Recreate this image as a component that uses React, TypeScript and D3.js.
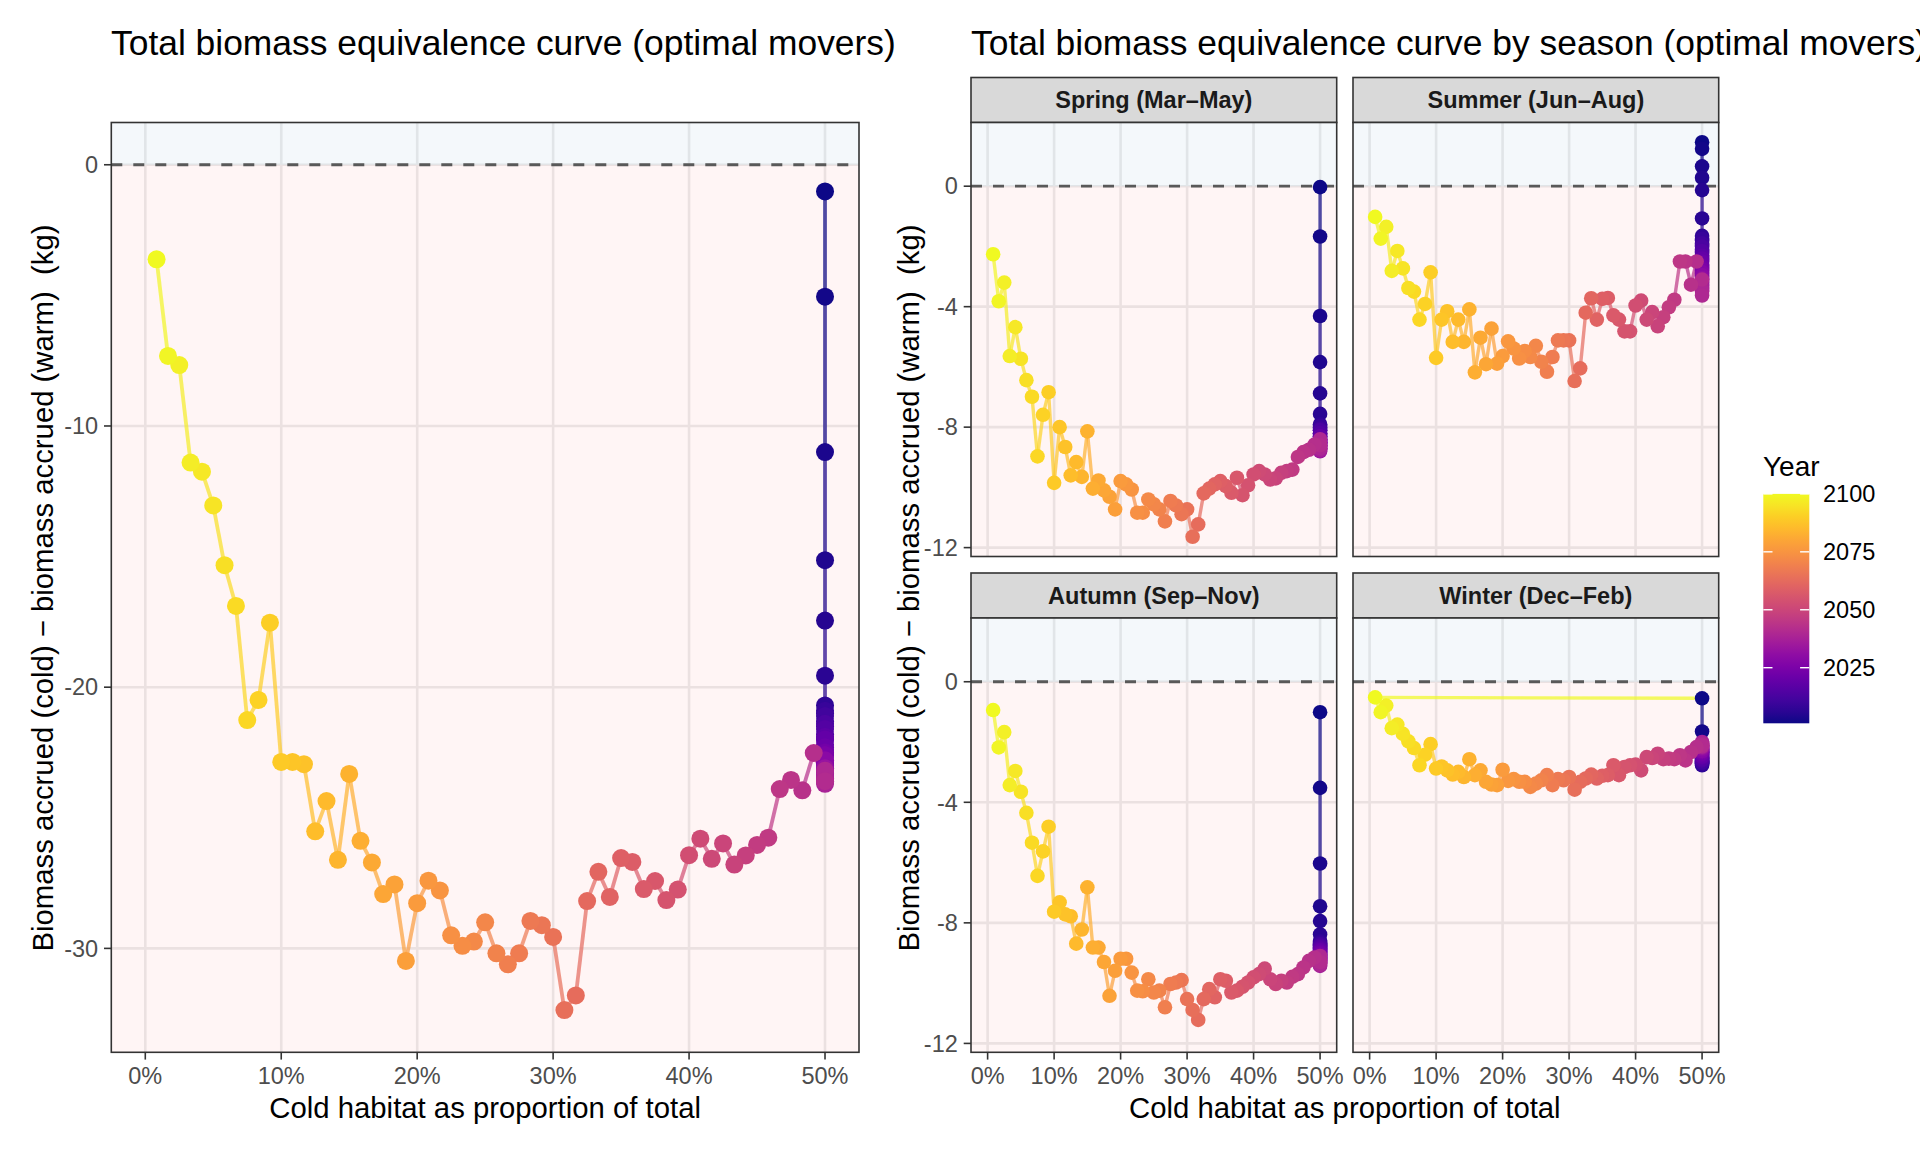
import { useEffect, useRef } from 'react';
import * as d3 from 'd3';

const years = d3.range(2001, 2101);

// cold habitat as % of total, one value per year 2001 -> 2100
const coldShare = [
  50, 50, 50, 50, 50, 50, 50, 50, 50, 50,
  50, 50, 50, 50, 50, 50, 50, 50, 50, 50,
  50, 50, 50, 50, 50, 50, 50, 50, 50, 50,
  50, 50, 50, 50, 50, 50, 50, 50, 50, 50,
  50, 49.17, 48.33, 47.5, 46.67, 45.83, 45, 44.17, 43.33, 42.5,
  41.67, 40.83, 40, 39.17, 38.33, 37.5, 36.67, 35.83, 35, 34.17,
  33.33, 32.5, 31.67, 30.83, 30, 29.17, 28.33, 27.5, 26.67, 25.83,
  25, 24.17, 23.33, 22.5, 21.67, 20.83, 20, 19.17, 18.33, 17.5,
  16.67, 15.83, 15, 14.17, 13.33, 12.5, 11.67, 10.83, 10, 9.17,
  8.33, 7.5, 6.67, 5.83, 5, 4.17, 3.33, 2.5, 1.67, 0.83,
];

// biomass(cold) - biomass(warm), kg, per year
const totalBiomass = [
  -1.02, -5.05, -11.0, -15.14, -17.45, -19.56, -20.7, -21.0, -20.9, -21.3,
  -21.1, -21.5, -21.4, -21.8, -21.6, -22.0, -21.9, -22.2, -22.0, -22.4,
  -22.3, -22.6, -22.5, -22.8, -22.6, -23.0, -22.9, -23.1, -22.8, -23.3,
  -23.2, -23.4, -23.1, -23.5, -23.3, -23.6, -23.4, -23.7, -23.5, -23.2,
  -23.6, -22.52, -23.95, -23.55, -23.9, -25.76, -26.04, -26.44, -26.79, -25.98,
  -26.57, -25.8, -26.43, -27.75, -28.15, -27.42, -27.73, -26.69, -26.54, -28.03,
  -27.07, -28.19, -31.8, -32.36, -29.56, -29.11, -28.95, -30.19, -30.61, -30.19,
  -29.0, -29.74, -29.9, -29.5, -27.78, -27.41, -28.27, -30.48, -27.55, -27.92,
  -26.71, -25.88, -23.32, -26.61, -24.36, -25.52, -22.95, -22.86, -22.86, -17.53,
  -20.49, -21.26, -16.89, -15.33, -13.04, -11.75, -11.4, -7.67, -7.32, -3.62,
];

const springBiomass = [
  -0.03, -1.67, -4.31, -5.84, -6.88, -7.56, -7.9, -8.0, -7.95, -8.1,
  -8.05, -8.2, -8.1, -8.25, -8.2, -8.35, -8.3, -8.4, -8.3, -8.45,
  -8.4, -8.5, -8.45, -8.55, -8.5, -8.6, -8.55, -8.65, -8.5, -8.7,
  -8.6, -8.75, -8.65, -8.8, -8.7, -8.6, -8.75, -8.5, -8.7, -8.4,
  -8.6, -8.58, -8.75, -8.83, -8.99, -9.41, -9.46, -9.52, -9.7, -9.74,
  -9.57, -9.46, -9.57, -9.93, -10.26, -9.68, -10.18, -9.96, -9.79, -9.9,
  -10.04, -10.2, -11.23, -11.64, -10.73, -10.89, -10.6, -10.45, -11.13, -10.73,
  -10.56, -10.4, -10.84, -10.84, -10.07, -9.9, -9.79, -10.73, -10.31, -10.1,
  -9.77, -10.04, -8.14, -9.65, -9.16, -9.6, -8.66, -8.0, -9.85, -6.84,
  -7.59, -8.97, -6.99, -6.44, -5.73, -4.68, -5.64, -3.2, -3.82, -2.26,
];

const summerBiomass = [
  1.46, 1.24, 0.66, 0.28, -0.13, -1.07, -1.65, -1.8, -1.75, -1.95,
  -1.9, -2.1, -2.0, -2.2, -2.15, -2.35, -2.3, -2.45, -2.4, -2.6,
  -2.5, -2.7, -2.65, -2.8, -2.75, -2.9, -2.85, -3.0, -2.95, -3.1,
  -3.05, -3.2, -3.15, -3.3, -3.25, -3.4, -3.35, -3.5, -3.45, -3.63,
  -3.1, -2.5, -3.27, -2.5, -2.5, -3.77, -4.02, -4.35, -4.65, -4.18,
  -4.43, -3.8, -3.96, -4.82, -4.82, -4.43, -4.29, -3.71, -3.74, -4.43,
  -3.72, -4.2, -6.05, -6.47, -5.12, -5.12, -5.12, -5.67, -6.16, -5.83,
  -5.3, -5.67, -5.47, -5.72, -5.39, -5.15, -5.64, -5.89, -4.73, -5.91,
  -5.03, -6.18, -4.09, -5.17, -4.43, -5.17, -4.15, -4.43, -5.7, -2.86,
  -3.91, -4.43, -3.5, -3.38, -2.73, -2.15, -2.81, -1.35, -1.74, -1.02,
];

const autumnBiomass = [
  -1.01, -3.52, -6.03, -7.45, -7.94, -8.38, -8.6, -8.7, -8.65, -8.75,
  -8.7, -8.8, -8.75, -8.85, -8.8, -8.9, -8.85, -8.95, -8.9, -9.0,
  -8.95, -9.05, -9.0, -9.1, -9.05, -9.15, -9.1, -9.2, -9.15, -9.25,
  -9.2, -9.3, -9.25, -9.35, -9.3, -9.43, -9.35, -9.2, -9.4, -9.1,
  -9.3, -9.15, -9.26, -9.48, -9.7, -9.79, -9.98, -9.92, -10.03, -9.87,
  -9.52, -9.7, -9.81, -9.98, -10.12, -10.25, -10.31, -9.92, -9.87, -10.47,
  -10.2, -10.53, -11.22, -10.89, -10.53, -9.9, -9.98, -10.03, -10.8, -10.25,
  -10.31, -9.87, -10.27, -10.25, -9.65, -9.19, -9.19, -9.59, -10.42, -9.3,
  -8.82, -8.82, -6.82, -8.22, -8.69, -7.78, -7.72, -7.32, -7.63, -4.81,
  -5.63, -6.44, -5.34, -4.35, -3.65, -2.96, -3.43, -1.67, -2.18, -0.94,
];

const winterBiomass = [
  -0.55, -1.65, -2.35, -2.55, -2.65, -2.72, -2.77, -2.72, -2.7, -2.65,
  -2.68, -2.6, -2.62, -2.55, -2.58, -2.5, -2.52, -2.45, -2.48, -2.4,
  -2.42, -2.35, -2.38, -2.3, -2.33, -2.28, -2.25, -2.3, -2.2, -2.24,
  -2.15, -2.2, -2.1, -2.18, -2.05, -2.12, -2.0, -2.1, -2.05, -2.15,
  -2.1, -2.17, -2.33, -2.61, -2.44, -2.57, -2.55, -2.57, -2.39, -2.53,
  -2.5, -2.94, -2.75, -2.77, -2.83, -3.1, -2.77, -3.1, -3.12, -3.21,
  -3.08, -3.21, -3.32, -3.58, -3.16, -3.27, -3.23, -3.43, -3.1, -3.27,
  -3.38, -3.49, -3.32, -3.32, -3.23, -3.29, -2.92, -3.43, -3.41, -3.32,
  -2.94, -3.1, -2.57, -3.16, -2.99, -3.08, -2.94, -2.81, -2.88, -2.07,
  -2.42, -2.77, -2.2, -1.98, -1.73, -1.42, -1.54, -0.79, -1.01, -0.52,
];

const seasons = [
  { label: 'Spring (Mar–May)', values: springBiomass, wrap: false },
  { label: 'Summer (Jun–Aug)', values: summerBiomass, wrap: false },
  { label: 'Autumn (Sep–Nov)', values: autumnBiomass, wrap: false },
  { label: 'Winter (Dec–Feb)', values: winterBiomass, wrap: true },
];

const xLimits = [0, 50];
const xTicks = [0, 10, 20, 30, 40, 50];
const totalYTicks = [0, -10, -20, -30];
const seasonYTicks = [0, -4, -8, -12];
const legendTicks = [2025, 2050, 2075, 2100];

const FONT = '"Liberation Sans", Arial, Helvetica, sans-serif';
const yLabel = 'Biomass accrued (cold) − biomass accrued (warm)  (kg)';

type Box = { x0: number; x1: number; y0: number; y1: number };

function expand(lo: number, hi: number) {
  const pad = (hi - lo) * 0.05;
  return [lo - pad, hi + pad];
}

export default function App() {
  const svgRef = useRef<SVGSVGElement | null>(null);

  useEffect(() => {
    if (!svgRef.current) return;
    const svg = d3.select(svgRef.current);
    svg.selectAll('*').remove();

    const color = d3.scaleSequential(d3.interpolatePlasma).domain([2001, 2100]);
    const xDom = expand(xLimits[0], xLimits[1]);

    const drawPanel = (box: Box, values: number[], yDom: number[], yTicks: number[], opt: any) => {
      const x = d3.scaleLinear().domain(xDom).range([box.x0, box.x1]);
      const y = d3.scaleLinear().domain(yDom).range([box.y1, box.y0]);
      const g = svg.append('g');

      g.append('rect')
        .attr('x', box.x0).attr('y', box.y0)
        .attr('width', box.x1 - box.x0).attr('height', box.y1 - box.y0)
        .attr('fill', '#fff');

      g.selectAll('.vgrid').data(xTicks).join('line')
        .attr('x1', d => x(d)).attr('x2', d => x(d))
        .attr('y1', box.y0).attr('y2', box.y1)
        .attr('stroke', '#EBEBEB').attr('stroke-width', 2.6);
      g.selectAll('.hgrid').data(yTicks).join('line')
        .attr('y1', d => y(d)).attr('y2', d => y(d))
        .attr('x1', box.x0).attr('x2', box.x1)
        .attr('stroke', '#EBEBEB').attr('stroke-width', 2.6);

      // gain / loss shading
      g.append('rect')
        .attr('x', box.x0).attr('y', box.y0)
        .attr('width', box.x1 - box.x0).attr('height', y(0) - box.y0)
        .attr('fill', '#4682B4').attr('fill-opacity', 0.06);
      g.append('rect')
        .attr('x', box.x0).attr('y', y(0))
        .attr('width', box.x1 - box.x0).attr('height', box.y1 - y(0))
        .attr('fill', '#FF0000').attr('fill-opacity', 0.04);

      g.append('line')
        .attr('x1', box.x0).attr('x2', box.x1)
        .attr('y1', y(0)).attr('y2', y(0))
        .attr('stroke', '#595959').attr('stroke-width', 2.8)
        .attr('stroke-dasharray', '11 11');

      const pts = years.map((yr, i) => ({ yr, x: coldShare[i], v: values[i] }));
      const segs = d3.pairs(pts);
      if (opt.wrap) segs.push([pts[pts.length - 1], pts[0]]);

      g.selectAll('.seg').data(segs).join('line')
        .attr('x1', d => x(d[0].x)).attr('y1', d => y(d[0].v))
        .attr('x2', d => x(d[1].x)).attr('y2', d => y(d[1].v))
        .attr('stroke', d => color(d[0].yr))
        .attr('stroke-opacity', 0.7)
        .attr('stroke-width', opt.lw);

      g.selectAll('.pt').data(pts).join('circle')
        .attr('cx', d => x(d.x)).attr('cy', d => y(d.v))
        .attr('r', opt.r)
        .attr('fill', d => color(d.yr));

      g.append('rect')
        .attr('x', box.x0).attr('y', box.y0)
        .attr('width', box.x1 - box.x0).attr('height', box.y1 - box.y0)
        .attr('fill', 'none').attr('stroke', '#333333').attr('stroke-width', 1.6);

      if (opt.yAxis) {
        g.selectAll('.ytick').data(yTicks).join('line')
          .attr('x1', box.x0 - 7.3).attr('x2', box.x0)
          .attr('y1', d => y(d)).attr('y2', d => y(d))
          .attr('stroke', '#333333').attr('stroke-width', 1.6);
        g.selectAll('.ylab').data(yTicks).join('text')
          .attr('x', box.x0 - 13.2).attr('y', d => y(d)).attr('dy', '0.35em')
          .attr('text-anchor', 'end')
          .attr('font-family', FONT).attr('font-size', 23.5).attr('fill', '#4D4D4D')
          .text(d => String(d));
      }
      if (opt.xAxis) {
        g.selectAll('.xtick').data(xTicks).join('line')
          .attr('x1', d => x(d)).attr('x2', d => x(d))
          .attr('y1', box.y1).attr('y2', box.y1 + 7.3)
          .attr('stroke', '#333333').attr('stroke-width', 1.6);
        g.selectAll('.xlab').data(xTicks).join('text')
          .attr('x', d => x(d)).attr('y', box.y1 + 31.5)
          .attr('text-anchor', 'middle')
          .attr('font-family', FONT).attr('font-size', 23.5).attr('fill', '#4D4D4D')
          .text(d => `${d}%`);
      }
    };

    // left: total
    const leftBox = { x0: 111.3, x1: 859, y0: 122.5, y1: 1052.3 };
    const totExt = d3.extent(totalBiomass.concat([0])) as number[];
    drawPanel(leftBox, totalBiomass, expand(totExt[0], totExt[1]), totalYTicks,
      { r: 9, lw: 3.8, yAxis: true, xAxis: true, wrap: false });

    // right: seasons
    const allSeason = seasons.flatMap(s => s.values).concat([0]);
    const sExt = d3.extent(allSeason) as number[];
    const sDom = expand(sExt[0], sExt[1]);
    const cols = [[971, 1336.7], [1353, 1718.7]];
    const rows = [[77.5, 122.5, 556.5], [573, 618, 1052.3]];
    seasons.forEach((s, i) => {
      const c = cols[i % 2];
      const r = rows[Math.floor(i / 2)];
      const box = { x0: c[0], x1: c[1], y0: r[1], y1: r[2] };
      svg.append('rect')
        .attr('x', c[0]).attr('y', r[0])
        .attr('width', c[1] - c[0]).attr('height', r[1] - r[0])
        .attr('fill', '#D9D9D9').attr('stroke', '#333333').attr('stroke-width', 1.6);
      svg.append('text')
        .attr('x', (c[0] + c[1]) / 2).attr('y', (r[0] + r[1]) / 2).attr('dy', '0.36em')
        .attr('text-anchor', 'middle')
        .attr('font-family', FONT).attr('font-size', 23.5).attr('font-weight', 'bold')
        .attr('fill', '#1A1A1A')
        .text(s.label);
      drawPanel(box, s.values, sDom, seasonYTicks,
        { r: 7.3, lw: 3.4, yAxis: i % 2 === 0, xAxis: i >= 2, wrap: s.wrap });
    });

    // titles
    const text = (x: number, y: number, size: number, str: string, anchor = 'start') =>
      svg.append('text')
        .attr('x', x).attr('y', y)
        .attr('text-anchor', anchor)
        .attr('font-family', FONT).attr('font-size', size).attr('fill', '#000')
        .style('white-space', 'pre')
        .text(str);

    text(111, 55, 35.4, 'Total biomass equivalence curve (optimal movers)');
    text(971, 55, 35.4, 'Total biomass equivalence curve by season (optimal movers)');
    text((leftBox.x0 + leftBox.x1) / 2, 1118, 29.3, 'Cold habitat as proportion of total', 'middle');
    text((cols[0][0] + cols[1][1]) / 2, 1118, 29.3, 'Cold habitat as proportion of total', 'middle');
    text(0, 0, 29.3, yLabel, 'middle').attr('transform', 'translate(53,588) rotate(-90)');
    text(0, 0, 29.3, yLabel, 'middle').attr('transform', 'translate(919,588) rotate(-90)');

    // legend
    const legY = d3.scaleLinear().domain([2001, 2100]).range([723.3, 493.9]);
    const grad = svg.append('defs').append('linearGradient')
      .attr('id', 'yearGrad').attr('x1', 0).attr('x2', 0).attr('y1', 1).attr('y2', 0);
    d3.range(0, 1.0001, 0.05).forEach(t => {
      grad.append('stop').attr('offset', t).attr('stop-color', d3.interpolatePlasma(t));
    });
    svg.append('rect')
      .attr('x', 1763.3).attr('y', 493.9)
      .attr('width', 46).attr('height', 723.3 - 493.9)
      .attr('fill', 'url(#yearGrad)');
    legendTicks.forEach(t => {
      svg.append('line').attr('x1', 1763.3).attr('x2', 1772.5)
        .attr('y1', legY(t)).attr('y2', legY(t)).attr('stroke', '#fff').attr('stroke-width', 1.4);
      svg.append('line').attr('x1', 1800.1).attr('x2', 1809.3)
        .attr('y1', legY(t)).attr('y2', legY(t)).attr('stroke', '#fff').attr('stroke-width', 1.4);
      svg.append('text')
        .attr('x', 1823).attr('y', legY(t)).attr('dy', '0.35em')
        .attr('font-family', FONT).attr('font-size', 23.5).attr('fill', '#000')
        .text(String(t));
    });
    text(1763, 476, 28, 'Year');
  }, []);

  return (
    <svg
      ref={svgRef}
      width={1920}
      height={1152}
      style={{ position: 'absolute', left: 0, top: 0, background: '#fff' }}
    />
  );
}
